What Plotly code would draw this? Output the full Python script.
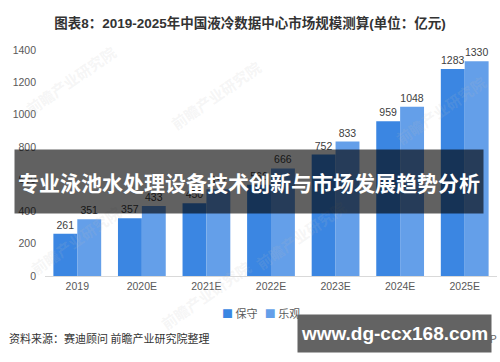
import plotly.graph_objects as go

categories = ["2019", "2020E", "2021E", "2022E", "2023E", "2024E", "2025E"]
conservative = [261, 357, 450, 566, 752, 959, 1283]
optimistic = [351, 433, 537, 666, 833, 1048, 1330]
series_names = ["保守", "乐观"]
series_colors = ["#3b86e2", "#649fe9"]
y_ticks = [0, 200, 400, 600, 800, 1000, 1200, 1400]

FONT = "Liberation Sans, Arial, Noto Sans CJK SC, sans-serif"
CJK = "Noto Sans CJK SC, Liberation Sans, sans-serif"

fig = go.Figure()
for name, vals, col in zip(series_names, [conservative, optimistic], series_colors):
    fig.add_trace(go.Bar(
        x=categories, y=vals, name=name,
        marker=dict(color=col, line=dict(width=0)),
        text=[str(v) for v in vals], textposition="outside",
        textfont=dict(size=10.5, color="#404040", family=FONT),
        cliponaxis=False,
    ))

W, H = 500, 362
L, R, T, B = 45, 3, 50, 86
pw, ph = W - L - R, H - T - B
def px(x):
    return (x - L) / pw
def py(y):
    return (H - B - y) / ph

legend_text = (f"<span style='color:{series_colors[0]}'>■</span> {series_names[0]}"
               f"   <span style='color:{series_colors[1]}'>■</span> {series_names[1]}")

annotations = []
# faint background watermarks
for (wx, wy) in [(70, 80), (215, 95), (440, 110), (75, 240), (300, 235), (205, 295)]:
    annotations.append(dict(text="<b>前瞻产业研究院</b>", x=px(wx), y=py(wy), xref="paper", yref="paper",
                            xanchor="center", yanchor="middle", showarrow=False, textangle=-35,
                            font=dict(size=15, color="rgba(190,190,190,0.15)", family=CJK)))

annotations += [
    dict(text=legend_text, x=px(261), y=py(313), xref="paper", yref="paper",
         xanchor="center", yanchor="middle", showarrow=False,
         font=dict(size=11, color="#595959", family=CJK)),
    dict(text="资料来源：赛迪顾问 前瞻产业研究院整理", x=px(7), y=py(338), xref="paper", yref="paper",
         xanchor="left", yanchor="middle", showarrow=False,
         font=dict(size=11, color="#333333", family=CJK)),
    dict(text="前瞻经济学人APP", x=px(499), y=py(338), xref="paper", yref="paper",
         xanchor="right", yanchor="middle", showarrow=False,
         font=dict(size=11, color="#666666", family=CJK)),
    dict(text="<b>专业泳池水处理设备技术创新与市场发展趋势分析</b>",
         x=px(249), y=py(181), xref="paper", yref="paper",
         xanchor="center", yanchor="middle", showarrow=False,
         width=462, height=57, bgcolor="rgba(0,0,0,0.62)", borderpad=3,
         font=dict(size=21, color="white", family=CJK)),
    dict(text="<b>www.dg-ccx168.com</b>",
         x=px(394.5), y=py(333.5), xref="paper", yref="paper",
         xanchor="center", yanchor="middle", showarrow=False,
         width=193, height=37, bgcolor="#636363", borderpad=0,
         font=dict(size=19, color="white", family=FONT)),
]

fig.update_layout(
    width=W, height=H,
    margin=dict(l=L, r=R, t=T, b=B),
    paper_bgcolor="white", plot_bgcolor="white",
    barmode="group", bargap=0.26, bargroupgap=0,
    title=dict(text="<b>图表8：2019-2025年中国液冷数据中心市场规模测算(单位：亿元)</b>",
               x=0.5, xanchor="center", y=1 - 23 / H, yanchor="middle",
               font=dict(size=13.5, color="#333333", family=FONT + ", " + CJK)),
    xaxis=dict(showline=True, linecolor="#d9d9d9", linewidth=1, ticks="",
               tickfont=dict(size=10.5, color="#595959", family=FONT),
               showgrid=False, zeroline=False),
    yaxis=dict(range=[0, 1400], tickvals=y_ticks, showgrid=False, zeroline=False,
               showline=False, ticks="", ticklabelstandoff=8,
               tickfont=dict(size=10.5, color="#595959", family=FONT)),
    showlegend=False,
    annotations=annotations,
)

fig.write_html("out.html", config={"displayModeBar": False},
               post_script="document.body.style.margin='0px';")
